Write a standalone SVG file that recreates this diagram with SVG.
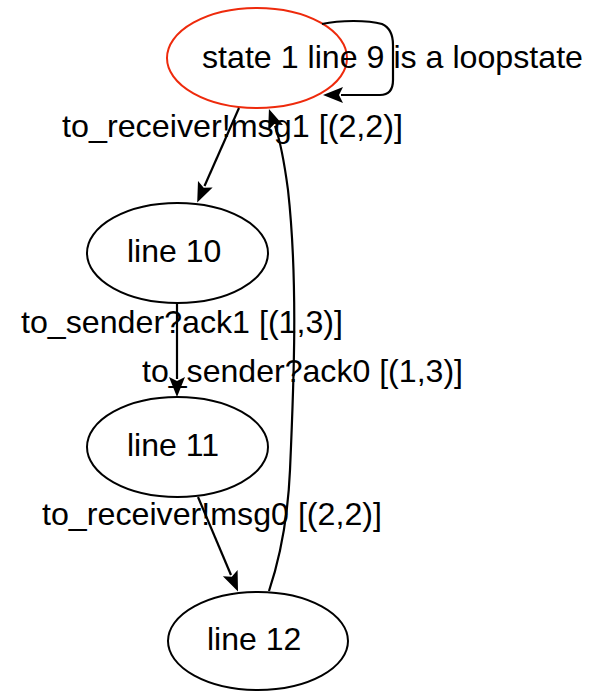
<svg xmlns="http://www.w3.org/2000/svg" width="596" height="691" viewBox="0 0 596 691">
  <defs>
    <marker id="arrow" markerUnits="userSpaceOnUse" markerWidth="22" markerHeight="18" viewBox="0 -9 22 18" refX="2" refY="0" orient="auto">
      <path d="M0,-8 L20,0 L0,8 L4,0 Z" fill="#000"/>
    </marker>
    <style>
      .node ellipse { fill: #fff; stroke: #000; stroke-width: 2; }
      .node.start ellipse { stroke: #ee2a0c; }
      .edge path { fill: none; stroke: #000; stroke-width: 2.2; marker-end: url(#arrow); }
      text { font-family: "Liberation Sans", Arial, Helvetica, sans-serif; font-size: 32px; fill: #000; }
    </style>
  </defs>
  <rect width="596" height="691" fill="#fff"/>

  <!-- states -->
  <g id="node-line9" class="node start">
    <ellipse cx="257" cy="58" rx="90" ry="50"/>
  </g>
  <g id="node-line10" class="node">
    <ellipse cx="177.5" cy="253" rx="90.5" ry="50"/>
  </g>
  <g id="node-line11" class="node">
    <ellipse cx="177.5" cy="447" rx="90.5" ry="50"/>
  </g>
  <g id="node-line12" class="node">
    <ellipse cx="258" cy="641" rx="90" ry="49"/>
  </g>

  <!-- transitions -->
  <g id="edges" class="edge">
    <path d="M322,24 C340,20 368,20 382,24 C391,28 393,37 393,45 L393,80 C393,89 389,95 380,95 L341,95"/>
    <path d="M239,108 L204.5,186"/>
    <path d="M177,303 L177,379"/>
    <path d="M198,497 L231,575"/>
    <path d="M269,591 C281,555 288,515 290,470 C294,380 298,280 288,190 C284,160 280,140 275,126"/>
  </g>

  <!-- state labels -->
  <text x="202" y="68" textLength="381" lengthAdjust="spacingAndGlyphs">state 1 line 9 is a loopstate</text>
  <text x="127" y="262">line 10</text>
  <text x="127" y="456">line 11</text>
  <text x="207" y="650">line 12</text>

  <!-- transition labels -->
  <text x="62" y="137" textLength="341" lengthAdjust="spacingAndGlyphs">to_receiver!msg1 [(2,2)]</text>
  <text x="21" y="333" textLength="322" lengthAdjust="spacingAndGlyphs">to_sender?ack1 [(1,3)]</text>
  <text x="142" y="382" textLength="321" lengthAdjust="spacingAndGlyphs">to_sender?ack0 [(1,3)]</text>
  <text x="42" y="525" textLength="340" lengthAdjust="spacingAndGlyphs">to_receiver!msg0 [(2,2)]</text>
</svg>
